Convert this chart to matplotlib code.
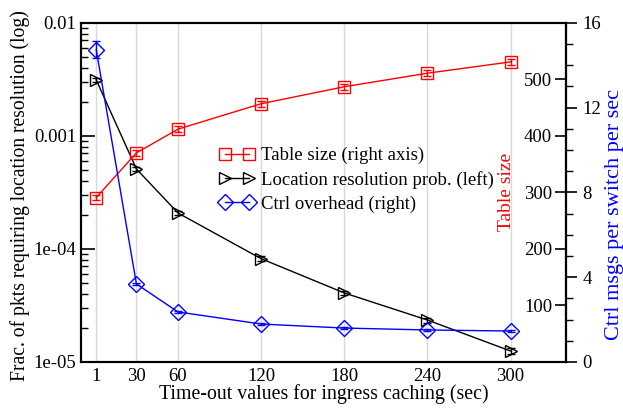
import matplotlib
matplotlib.use('Agg')
import matplotlib.pyplot as plt
from matplotlib.lines import Line2D
from matplotlib.ticker import FixedLocator, MultipleLocator, NullFormatter

plt.rcParams['font.family'] = ['Liberation Serif', 'DejaVu Serif']
plt.rcParams['font.size'] = 13.5

timeouts = [1, 30, 60, 120, 180, 240, 300]
xtick_labels = ['1', '30', '60', '120', '180', '240', '300']

# table size (right axis, entries)
table_size = [291, 370, 412, 457, 487, 511, 531]
table_err = [4, 5, 5, 5, 5, 5, 5]

# location resolution probability (left axis, log)
loc_prob = [3.13e-3, 5.1e-4, 2.08e-4, 8.2e-5, 4.08e-5, 2.35e-5, 1.25e-5]
loc_err = [1.5e-4, 2.5e-5, 1e-5, 4e-6, 2e-6, 1.2e-6, 7e-7]

# ctrl overhead (msgs per switch per sec)
ctrl_msgs = [14.73, 3.68, 2.36, 1.79, 1.60, 1.51, 1.46]
ctrl_err = [0.4, 0.06, 0.05, 0.04, 0.03, 0.03, 0.03]

fig = plt.figure(figsize=(6.23, 4.09), dpi=100)
ax = fig.add_axes([0.130, 0.115, 0.7785, 0.829])

ax.set_xlim(-10, 340)
ax.set_yscale('log')
ax.set_ylim(1e-5, 1e-2)
ax.set_xticks(timeouts)
ax.set_xticklabels(xtick_labels)
ax.tick_params(axis='x', length=0, pad=4)
ax.grid(axis='x', color='#d9d9d9', linewidth=1)
ax.set_axisbelow(True)
ax.yaxis.set_major_locator(FixedLocator([1e-5, 1e-4, 1e-3, 1e-2]))
ax.set_yticklabels(['1e-05', '1e-04', '0.001', '0.01'])
ax.yaxis.set_minor_formatter(NullFormatter())
ax.tick_params(axis='y', which='major', direction='in', length=10, width=1.2)
ax.tick_params(axis='y', which='minor', direction='in', length=5, width=1)
for s in ax.spines.values():
    s.set_linewidth(1.5)
ax.set_xlabel('Time-out values for ingress caching (sec)', fontsize=14.3, labelpad=0)
ax.set_ylabel('Frac. of pkts requiring location resolution (log)', fontsize=14.1)
ax.yaxis.set_label_coords(-0.105, 0.49)

# table size axis: labels on the inside of the right spine
ax_t = ax.twinx()
ax_t.spines['left'].set_position(('axes', 1.0))
ax_t.spines['left'].set_visible(True)
ax_t.spines['right'].set_visible(False)
ax_t.yaxis.set_ticks_position('left')
ax_t.yaxis.set_label_position('left')
ax_t.set_ylim(0, 600)
ax_t.set_yticks([100, 200, 300, 400, 500])
ax_t.yaxis.set_minor_locator(MultipleLocator(50))
ax_t.tick_params(axis='y', which='major', direction='out', length=8, width=1.2, pad=2)
ax_t.tick_params(axis='y', which='minor', direction='out', length=0)
ax_t.set_ylabel('Table size', color='red', fontsize=14)
ax_t.yaxis.set_label_coords(0.895, 0.5)
for s in ['top', 'bottom']:
    ax_t.spines[s].set_visible(False)
ax_t.spines['left'].set_linewidth(1.5)

# ctrl overhead axis
ax_c = ax.twinx()
ax_c.set_ylim(0, 16)
ax_c.set_yticks([0, 4, 8, 12, 16])
ax_c.yaxis.set_minor_locator(MultipleLocator(1))
ax_c.tick_params(axis='y', which='major', direction='out', length=8, width=1.2, pad=4)
ax_c.tick_params(axis='y', which='minor', direction='out', length=5, width=1)
ax_c.set_ylabel('Ctrl msgs per switch per sec', color='blue', fontsize=16)
ax_c.yaxis.set_label_coords(1.081, 0.434)
for s in ax_c.spines.values():
    s.set_linewidth(1.5)

style = dict(markersize=8, markerfacecolor='none', markeredgewidth=1, linewidth=1)
ax.errorbar(timeouts, loc_prob, yerr=loc_err, color='black', marker='>',
            capsize=3, elinewidth=1, **dict(style, markersize=9))
ax_t.errorbar(timeouts, table_size, yerr=table_err, color='red', marker='s',
              capsize=3, elinewidth=1, **style)
ax_c.errorbar(timeouts, ctrl_msgs, yerr=ctrl_err, color='blue', marker='D',
              capsize=3, elinewidth=1, **style)

h_tab = Line2D([], [], color='red', marker='s', **style)
h_loc = Line2D([], [], color='black', marker='>', **dict(style, markersize=9))
h_ctl = Line2D([], [], color='blue', marker='D', **style)

fig.legend([h_tab, h_loc, h_ctl],
           ['Table size (right axis)', 'Location resolution prob. (left)', 'Ctrl overhead (right)'],
           loc='center left', bbox_to_anchor=(0.352, 0.56), frameon=False,
           borderpad=0, borderaxespad=0, handlelength=1.9, handletextpad=0.3,
           labelspacing=0.35, numpoints=2)

fig.savefig('out.png', dpi=100)
